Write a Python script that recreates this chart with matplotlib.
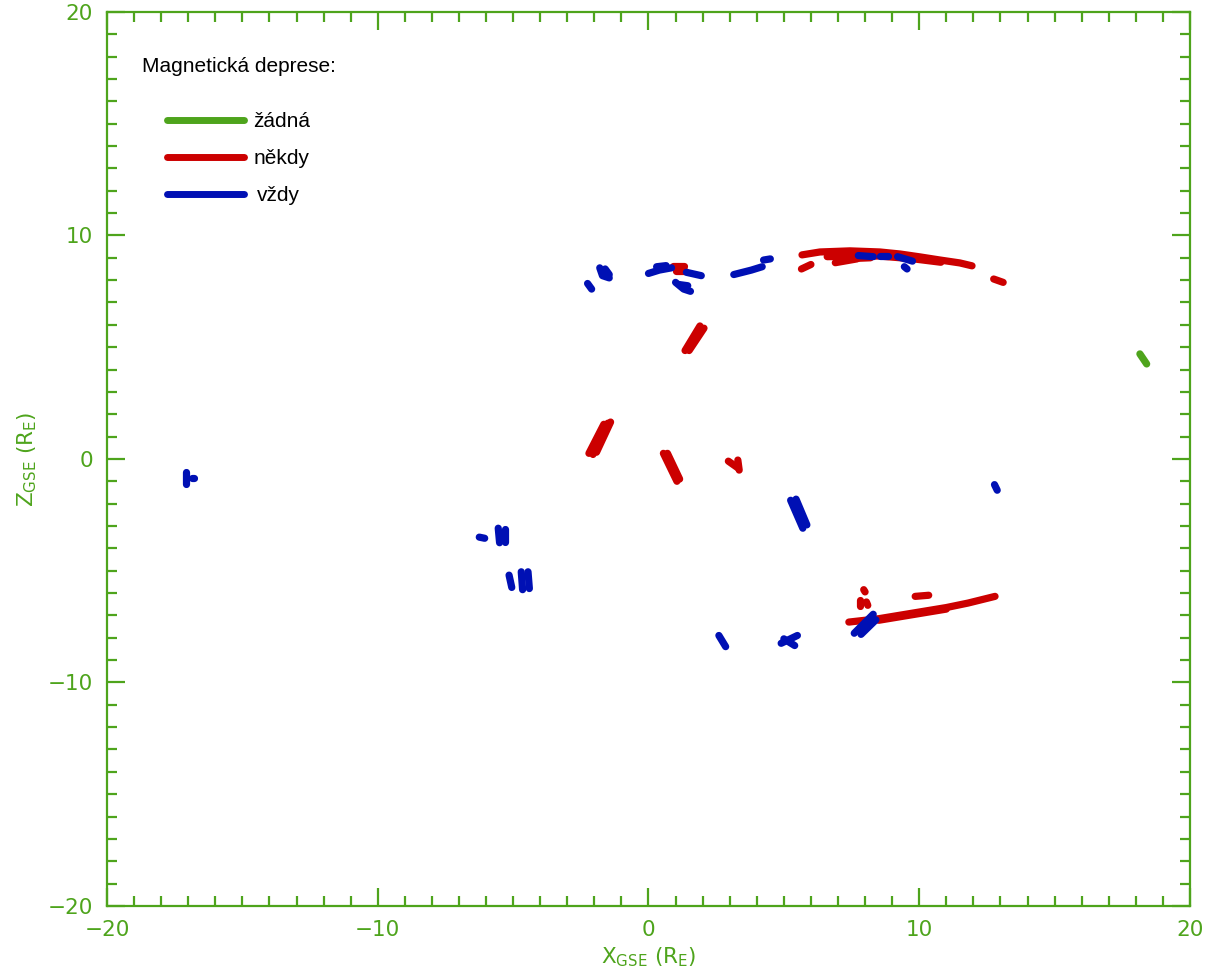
import matplotlib
matplotlib.use("Agg")
import matplotlib.pyplot as plt
from matplotlib.ticker import MultipleLocator

# barvy
GREEN = "#4ea41c"
RED = "#cc0000"
BLUE = "#0010b4"

# --- data: useky drah, kde byla pozorovana magneticka deprese (X_GSE, Z_GSE) ---
zadna_tracks = [
    [(18.15, 4.70), (18.40, 4.25)],
]

nekdy_tracks = [
    # horni oblouk
    [(5.67, 9.13), (6.33, 9.26), (7.44, 9.31), (8.55, 9.26), (9.29, 9.17),
     (10.03, 9.04), (10.77, 8.90), (11.50, 8.77), (11.95, 8.64)],
    [(6.60, 9.05), (8.50, 9.08), (9.80, 8.95), (10.80, 8.80)],
    [(7.20, 8.95), (8.20, 9.00)],
    [(5.65, 8.50), (6.00, 8.70)],
    [(6.90, 8.78), (7.70, 8.95)],
    [(12.75, 8.05), (13.10, 7.90)],
    [(0.90, 8.65), (1.30, 8.65)],
    [(1.00, 8.40), (1.35, 8.40)],
    # sikme useky
    [(1.35, 4.85), (1.90, 5.95)],
    [(1.50, 4.85), (2.05, 5.85)],
    [(-2.20, 0.25), (-1.65, 1.55)],
    [(-2.05, 0.20), (-1.50, 1.60)],
    [(-1.92, 0.30), (-1.40, 1.65)],
    [(0.55, 0.25), (1.05, -1.00)],
    [(0.70, 0.25), (1.15, -0.90)],
    [(2.95, -0.10), (3.30, -0.40)],
    [(3.30, -0.05), (3.35, -0.50)],
    # dolni oblouk
    [(7.40, -7.30), (8.50, -7.15), (10.00, -6.85), (11.00, -6.65),
     (11.80, -6.45), (12.80, -6.15)],
    [(8.50, -7.22), (10.00, -6.92), (11.00, -6.72)],
    [(7.80, -6.30), (7.80, -6.60)],
    [(8.05, -6.40), (8.10, -6.55)],
    [(7.95, -5.85), (8.00, -5.95)],
    [(9.85, -6.15), (10.35, -6.10)],
]

vzdy_tracks = [
    [(-17.10, -0.60), (-17.10, -1.10)],
    [(-16.85, -0.85), (-16.80, -0.85)],
    [(-6.25, -3.50), (-6.05, -3.55)],
    [(-5.55, -3.10), (-5.50, -3.75)],
    [(-5.30, -3.15), (-5.30, -3.70)],
    [(-5.15, -5.20), (-5.05, -5.75)],
    [(-4.70, -5.05), (-4.65, -5.85)],
    [(-4.45, -5.05), (-4.40, -5.80)],
    # horni shluk
    [(-1.80, 8.55), (-1.70, 8.20), (-1.45, 8.10)],
    [(-1.60, 8.50), (-1.45, 8.25)],
    [(-2.25, 7.85), (-2.10, 7.60)],
    [(0.00, 8.30), (0.40, 8.45), (0.85, 8.55)],
    [(0.30, 8.60), (0.65, 8.65)],
    [(1.40, 8.35), (1.95, 8.20)],
    [(1.00, 7.90), (1.30, 7.60), (1.55, 7.50)],
    [(1.15, 7.80), (1.45, 7.75)],
    [(3.15, 8.25), (3.80, 8.45), (4.20, 8.60)],
    [(4.25, 8.90), (4.50, 8.95)],
    [(7.75, 9.10), (8.30, 9.05)],
    [(8.55, 9.10), (8.85, 9.10)],
    [(9.20, 9.05), (9.75, 8.85)],
    [(9.45, 8.60), (9.55, 8.50)],
    # stred a dole
    [(5.25, -1.85), (5.70, -3.10)],
    [(5.45, -1.80), (5.85, -2.95)],
    [(2.60, -7.90), (2.85, -8.40)],
    [(4.90, -8.25), (5.50, -7.90)],
    [(5.00, -8.05), (5.40, -8.35)],
    [(7.60, -7.80), (8.30, -6.95)],
    [(7.85, -7.85), (8.40, -7.20)],
    [(12.78, -1.15), (12.88, -1.40)],
]

legend_labels = ["žádná", "někdy", "vždy"]

fig = plt.figure(figsize=(12.16, 9.72), dpi=100)
ax = fig.add_axes([0.088, 0.068, 0.8906, 0.9197])

for tracks, color in [(zadna_tracks, GREEN), (nekdy_tracks, RED), (vzdy_tracks, BLUE)]:
    for tr in tracks:
        xs = [p[0] for p in tr]
        zs = [p[1] for p in tr]
        ax.plot(xs, zs, color=color, lw=5.2, solid_capstyle="round",
                solid_joinstyle="round")

ax.set_xlim(-20, 20)
ax.set_ylim(-20, 20)
ax.xaxis.set_major_locator(MultipleLocator(10))
ax.yaxis.set_major_locator(MultipleLocator(10))
ax.xaxis.set_minor_locator(MultipleLocator(1))
ax.yaxis.set_minor_locator(MultipleLocator(1))
ax.tick_params(which="both", direction="in", top=True, right=True,
               color=GREEN, labelcolor=GREEN, width=1.6, labelsize=15.5, pad=10)
ax.tick_params(which="major", length=13)
ax.tick_params(which="minor", length=7)
for sp in ax.spines.values():
    sp.set_color(GREEN)
    sp.set_linewidth(1.6)

ax.set_xlabel(r"X$_{\mathrm{GSE}}$ (R$_{\mathrm{E}}$)", color=GREEN, fontsize=15.5, labelpad=4)
ax.set_ylabel(r"Z$_{\mathrm{GSE}}$ (R$_{\mathrm{E}}$)", color=GREEN, fontsize=15.5, labelpad=6)

# legenda rucne
ax.text(-18.7, 17.55, "Magnetická deprese:", fontsize=15, family="Liberation Sans",
        va="center", ha="left", color="black")
leg_colors = [GREEN, RED, BLUE]
leg_z = [15.15, 13.5, 11.85]
text_dx = [0.0, 0.0, 0.15]
for lab, c, z, dx in zip(legend_labels, leg_colors, leg_z, text_dx):
    ax.plot([-17.8, -14.95], [z, z], color=c, lw=5, solid_capstyle="round")
    ax.text(-14.6 + dx, z - 0.05, lab, fontsize=15, family="Liberation Sans",
            va="center", ha="left", color="black")

fig.savefig("out.png", dpi=100)
